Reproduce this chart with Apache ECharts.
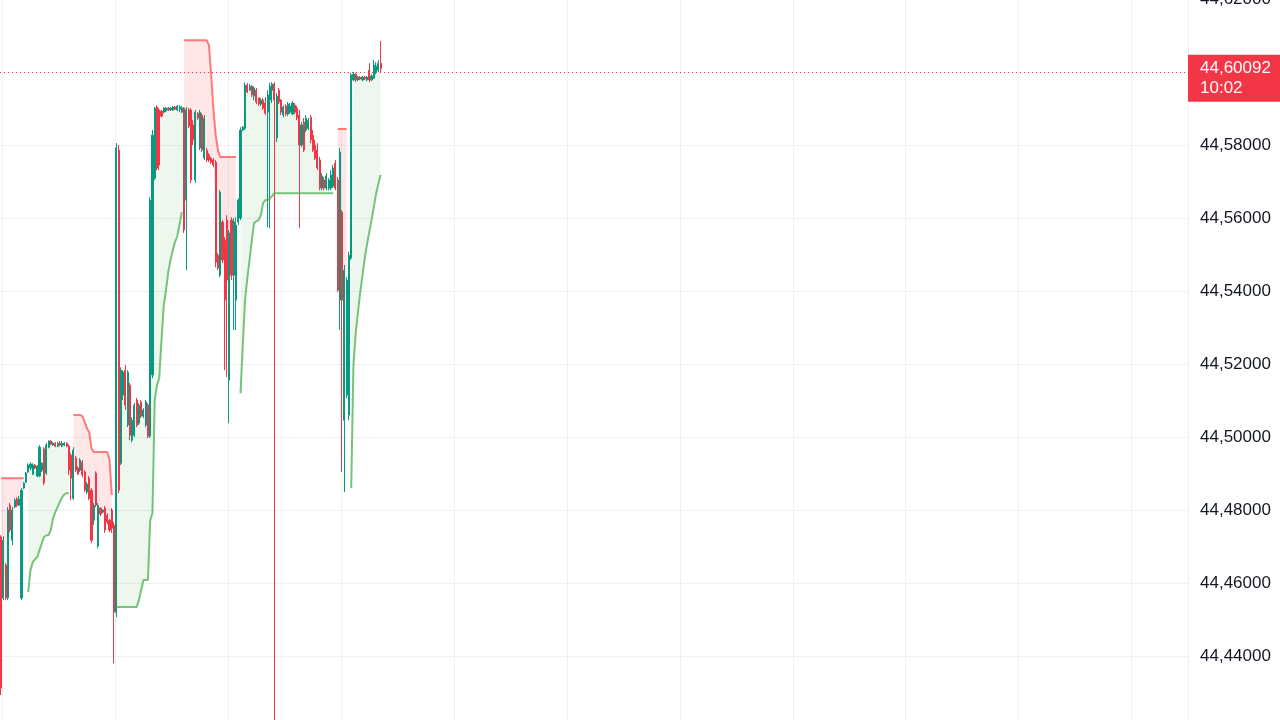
<!DOCTYPE html>
<html>
<head>
<meta charset="utf-8">
<title>Supertrend</title>
<script src="https://cdn.jsdelivr.net/npm/echarts@6/dist/echarts.min.js"></script>
<style>
html,body{margin:0;padding:0;background:#fff;}
#chart{width:1280px;height:720px;}
</style>
</head>
<body>
<div id="chart"></div>
<script>
// candles: open, close, low, high
const ohlc = [
  [44.4726,44.4312,44.4293,44.4731],[44.4559,44.4717,44.4553,44.4728],[44.4649,44.4559,44.4553,44.4654],
  [44.4559,44.4800,44.4553,44.4808],[44.4813,44.4745,44.4739,44.4819],[44.4717,44.4800,44.4704,44.4808],
  [44.4808,44.4827,44.4805,44.4832],[44.4830,44.4813,44.4808,44.4835],[44.4813,44.4830,44.4811,44.4838],
  [44.4559,44.4854,44.4553,44.4860],[44.4860,44.4874,44.4857,44.4876],[44.4876,44.4901,44.4874,44.4904],
  [44.4904,44.4923,44.4901,44.4928],[44.4915,44.4926,44.4909,44.4931],[44.4898,44.4923,44.4896,44.4928],
  [44.4923,44.4915,44.4912,44.4926],[44.4893,44.4920,44.4890,44.4923],[44.4893,44.4972,44.4890,44.4978],
  [44.4909,44.4928,44.4904,44.4931],[44.4967,44.4874,44.4868,44.4972],[44.4901,44.4978,44.4896,44.4983],
  [44.4972,44.4989,44.4969,44.4991],[44.4989,44.4980,44.4978,44.4991],[44.4978,44.4983,44.4975,44.4986],
  [44.4983,44.4975,44.4972,44.4986],[44.4975,44.4983,44.4972,44.4986],[44.4983,44.4978,44.4975,44.4989],
  [44.4975,44.4983,44.4972,44.4989],[44.4978,44.4983,44.4975,44.4986],[44.4983,44.4975,44.4972,44.4986],
  [44.4975,44.4909,44.4896,44.4980],[44.4950,44.4887,44.4827,44.4956],[44.4832,44.4964,44.4827,44.4972],
  [44.4942,44.4909,44.4904,44.4948],[44.4915,44.4898,44.4896,44.4920],[44.4909,44.4937,44.4904,44.4942],
  [44.4931,44.4896,44.4890,44.4937],[44.4904,44.4854,44.4849,44.4909],[44.4849,44.4871,44.4843,44.4876],
  [44.4887,44.4832,44.4827,44.4893],[44.4854,44.4717,44.4709,44.4860],[44.4772,44.4813,44.4759,44.4819],
  [44.4901,44.4813,44.4808,44.4906],[44.4701,44.4813,44.4695,44.4819],[44.4805,44.4789,44.4783,44.4808],
  [44.4794,44.4800,44.4791,44.4802],[44.4805,44.4745,44.4737,44.4811],[44.4786,44.4767,44.4761,44.4791],
  [44.4772,44.4745,44.4739,44.4775],[44.4800,44.4750,44.4737,44.4805],[44.4759,44.4520,44.4380,44.4767],
  [44.4520,44.5792,44.4506,44.5805],[44.5786,44.4854,44.4846,44.5800],[44.4928,44.5183,44.4923,44.5191],
  [44.5115,44.5178,44.5101,44.5183],[44.5183,44.5087,44.5074,44.5197],[44.5033,44.5178,44.5027,44.5183],
  [44.5142,44.5005,44.4991,44.5148],[44.4991,44.5046,44.4986,44.5054],[44.5005,44.5087,44.5000,44.5093],
  [44.5101,44.5033,44.5027,44.5107],[44.5038,44.5087,44.5033,44.5093],[44.5096,44.5057,44.5052,44.5101],
  [44.5057,44.5074,44.5052,44.5079],[44.5033,44.5096,44.5027,44.5101],[44.5087,44.5002,44.4997,44.5093],
  [44.5002,44.5649,44.4997,44.5657],[44.5170,44.5827,44.5161,44.5841],[44.5709,44.5901,44.5704,44.5904],
  [44.5904,44.5737,44.5731,44.5909],[44.5896,44.5745,44.5731,44.5901],[44.5893,44.5879,44.5876,44.5896],
  [44.5890,44.5901,44.5887,44.5904],[44.5893,44.5901,44.5890,44.5904],[44.5901,44.5896,44.5893,44.5904],
  [44.5896,44.5901,44.5893,44.5904],[44.5896,44.5904,44.5893,44.5907],[44.5904,44.5898,44.5896,44.5907],
  [44.5896,44.5907,44.5893,44.5909],[44.5898,44.5904,44.5890,44.5909],[44.5890,44.5901,44.5887,44.5907],
  [44.5901,44.5567,44.5559,44.5904],[44.5649,44.5896,44.5457,44.5904],[44.5896,44.5852,44.5846,44.5901],
  [44.5896,44.5704,44.5696,44.5901],[44.5855,44.5814,44.5800,44.5868],[44.5704,44.5890,44.5696,44.5896],
  [44.5887,44.5874,44.5868,44.5890],[44.5792,44.5890,44.5786,44.5896],[44.5882,44.5786,44.5781,44.5887],
  [44.5764,44.5874,44.5759,44.5882],[44.5786,44.5759,44.5753,44.5792],[44.5772,44.5759,44.5753,44.5778],
  [44.5764,44.5753,44.5748,44.5767],[44.5759,44.5745,44.5739,44.5764],[44.5753,44.5479,44.5465,44.5759],
  [44.5498,44.5463,44.5457,44.5504],[44.5443,44.5671,44.5438,44.5676],[44.5589,44.5485,44.5476,44.5594],
  [44.5539,44.5375,44.5183,44.5548],[44.5594,44.5430,44.5164,44.5608],[44.5156,44.5559,44.5038,44.5567],
  [44.5594,44.5443,44.5430,44.5602],[44.5443,44.5589,44.5293,44.5600],[44.5375,44.5581,44.5293,44.5602],
  [44.5589,44.5649,44.5581,44.5654],[44.5600,44.5841,44.5594,44.5849],[44.5841,44.5849,44.5838,44.5852],
  [44.5846,44.5964,44.5841,44.5972],[44.5964,44.5945,44.5942,44.5970],[44.5950,44.5961,44.5948,44.5967],
  [44.5961,44.5937,44.5931,44.5964],[44.5934,44.5956,44.5923,44.5961],[44.5950,44.5918,44.5912,44.5956],
  [44.5929,44.5912,44.5907,44.5931],[44.5912,44.5923,44.5907,44.5929],[44.5923,44.5901,44.5896,44.5929],
  [44.5915,44.5887,44.5882,44.5931],[44.5890,44.5937,44.5575,44.5950],[44.5923,44.5961,44.5572,44.5970],
  [44.5950,44.5967,44.5915,44.5972],[44.5967,44.5923,44.4169,44.5972],[44.5819,44.5934,44.5808,44.5942],
  [44.5950,44.5918,44.5912,44.5956],[44.5923,44.5890,44.5882,44.5926],[44.5882,44.5904,44.5876,44.5909],
  [44.5907,44.5885,44.5879,44.5912],[44.5885,44.5912,44.5879,44.5918],[44.5890,44.5907,44.5885,44.5915],
  [44.5885,44.5915,44.5882,44.5920],[44.5909,44.5890,44.5885,44.5915],[44.5901,44.5874,44.5868,44.5907],
  [44.5882,44.5800,44.5572,44.5896],[44.5800,44.5855,44.5794,44.5863],[44.5863,44.5786,44.5781,44.5874],
  [44.5841,44.5874,44.5835,44.5882],[44.5846,44.5868,44.5841,44.5874],[44.5876,44.5814,44.5805,44.5882],
  [44.5827,44.5786,44.5781,44.5841],[44.5800,44.5764,44.5759,44.5814],[44.5786,44.5737,44.5731,44.5805],
  [44.5759,44.5682,44.5676,44.5767],[44.5682,44.5715,44.5676,44.5723],[44.5704,44.5682,44.5676,44.5712],
  [44.5682,44.5715,44.5676,44.5723],[44.5682,44.5704,44.5676,44.5709],[44.5682,44.5718,44.5676,44.5731],
  [44.5687,44.5737,44.5682,44.5745],[44.5750,44.5682,44.5676,44.5759],[44.5704,44.5402,44.5397,44.5712],
  [44.5375,44.5781,44.5293,44.5792],[44.5616,44.5375,44.4904,44.5622],[44.5046,44.5457,44.4849,44.5471],
  [44.5115,44.5430,44.5107,44.5438],[44.5060,44.5498,44.5046,44.5507],[44.5490,44.5992,44.5485,44.5997],
  [44.5978,44.5994,44.5975,44.6000],[44.5994,44.5978,44.5972,44.5997],[44.5978,44.5986,44.5975,44.5989],
  [44.5986,44.5981,44.5978,44.5989],[44.5978,44.5986,44.5975,44.5989],[44.5986,44.5981,44.5978,44.5989],
  [44.5978,44.5986,44.5975,44.5989],[44.6005,44.5978,44.5972,44.6024],[44.5978,44.5989,44.5975,44.5994],
  [44.5983,44.6019,44.5981,44.6033],[44.6000,44.6016,44.5994,44.6027],[44.6005,44.6024,44.6000,44.6033],
  [44.6024,44.60092,44.6000,44.6085]
];

// supertrend, bearish side (line above price)
const trendDown = [
  44.4887,44.4887,44.4887,44.4887,44.4887,44.4887,44.4887,44.4887,44.4887,44.4887,44.4887,
  null,null,null,null,null,null,null,null,null,null,null,null,null,null,null,null,null,null,null,null,null,
  44.5060,44.5060,44.5060,44.5060,44.5057,44.5041,44.5024,44.5013,44.4969,
  44.4959,44.4959,44.4959,44.4959,44.4959,44.4959,44.4959,44.4937,44.4841,
  null,null,null,null,null,null,null,null,null,null,null,null,null,null,null,null,
  null,null,null,null,null,null,null,null,null,null,null,null,null,null,null,
  44.6087,44.6087,44.6087,44.6087,44.6087,44.6087,44.6087,44.6087,44.6087,44.6087,44.6087,
  44.6074,44.5992,44.5896,44.5827,44.5786,
  44.5767,44.5767,44.5767,44.5767,44.5767,44.5767,44.5767,44.5767,
  null,null,null,null,null,null,null,null,null,null,null,null,null,null,null,null,null,null,null,null,null,null,
  null,null,null,null,null,null,null,null,null,null,null,null,null,null,null,null,null,null,null,null,null,null,
  44.5844,44.5844,44.5844,44.5844,44.5844,
  null,null,null,null,null,null,null,null,null,null,null,null,null,null,null
];

// supertrend, bullish side (line below price)
const trendUp = [
  null,null,null,null,null,null,null,null,null,null,null,null,
  44.4575,44.4635,44.4657,44.4665,44.4671,44.4690,44.4709,44.4726,44.4731,44.4731,
  44.4745,44.4778,44.4794,44.4808,44.4822,44.4835,44.4843,44.4846,44.4846,
  null,null,null,null,null,null,null,null,null,null,null,null,null,null,null,null,null,null,null,null,
  44.4534,44.4534,44.4534,44.4534,44.4534,44.4534,44.4534,44.4534,44.4534,44.4534,
  44.4553,44.4581,44.4608,44.4608,44.4608,44.4772,44.4791,44.5101,44.5142,44.5161,
  44.5265,44.5361,44.5402,44.5452,44.5485,44.5512,44.5534,44.5550,44.5583,44.5616,
  null,null,null,null,null,null,null,null,null,null,null,null,null,
  null,null,null,null,null,null,null,null,null,null,null,null,
  44.5120,44.5252,44.5375,44.5435,44.5485,44.5539,44.5586,44.5591,44.5594,44.5608,
  44.5641,44.5649,44.5649,44.5654,44.5660,
  44.5668,44.5668,44.5668,44.5668,44.5668,44.5668,44.5668,44.5668,44.5668,44.5668,
  44.5668,44.5668,44.5668,44.5668,44.5668,44.5668,44.5668,44.5668,44.5668,44.5668,
  44.5668,44.5668,44.5668,44.5668,44.5668,44.5668,44.5668,
  null,null,null,null,null,null,null,
  44.4860,44.5197,44.5285,44.5342,44.5397,44.5443,44.5490,44.5528,44.5561,44.5594,
  44.5630,44.5666,44.5693,44.5718
];

const priceTicks = [44.42, 44.44, 44.46, 44.48, 44.50, 44.52, 44.54, 44.56, 44.58, 44.60, 44.62];
const lastPrice = 44.60092;
const barTimer = '10:02';
const slotCount = 526;   // visible bar slots, most of them still empty
const slotsPerLine = 50;

const upColor = '#089981';
const downColor = '#F23645';

const slots = [];
for (let i = 0; i < slotCount; i++) slots.push(String(i));

// fill goes from the supertrend line to the middle of the candle body
const mids = ohlc.map(d => (d[0] + d[1]) / 2);
const dnBase = trendDown.map((v, i) => v == null ? null : mids[i]);
const dnBand = trendDown.map((v, i) => v == null ? null : v - mids[i]);
const upBand = trendUp.map((v, i) => v == null ? null : mids[i] - v);

const fmt = v => v.toFixed(5).replace('.', ',');
const font = 'Liberation Sans, Arial, sans-serif';
const fontSize = 17;
const gridRight = 92;

const chart = echarts.init(document.getElementById('chart'));

function hidden(name, data, stack, fill) {
  return {
    name: name, type: 'line', data: data, stack: stack,
    symbol: 'none', silent: true, z: 1,
    lineStyle: { opacity: 0 },
    areaStyle: fill ? { color: fill, opacity: 1 } : undefined
  };
}

chart.setOption({
  animation: false,
  grid: { left: 0, right: gridRight, top: -1, bottom: -9, outerBoundsMode: 'none' },
  xAxis: {
    type: 'category',
    data: slots,
    axisLine: { show: false },
    axisTick: { show: false },
    axisLabel: { show: false },
    splitLine: {
      show: true,
      interval: idx => idx % slotsPerLine === 1,
      lineStyle: { color: '#eef0f4', width: 1 }
    }
  },
  yAxis: {
    type: 'value',
    position: 'right',
    min: priceTicks[0],
    max: priceTicks[priceTicks.length - 1],
    interval: 0.02,
    axisLine: { show: false },
    axisTick: { show: false },
    axisLabel: { color: '#131722', fontSize: fontSize, fontFamily: font, margin: 12, formatter: fmt },
    splitLine: { lineStyle: { color: '#eef0f4', width: 1 } }
  },
  series: [
    hidden('dnBase', dnBase, 'dn'),
    hidden('dnFill', dnBand, 'dn', 'rgba(255,82,82,0.14)'),
    hidden('upBase', trendUp, 'up'),
    hidden('upFill', upBand, 'up', 'rgba(76,175,80,0.1)'),
    {
      name: 'price', type: 'candlestick', data: ohlc, z: 3,
      barWidth: 1.6,
      itemStyle: {
        color: upColor, color0: downColor,
        borderColor: upColor, borderColor0: downColor, borderWidth: 1
      },
      markLine: {
        silent: true, symbol: 'none', animation: false,
        label: { show: false },
        lineStyle: { color: downColor, type: [1, 3], width: 1, opacity: 1 },
        data: [{ yAxis: lastPrice }]
      }
    },
    {
      name: 'Down Trend', type: 'line', data: trendDown, symbol: 'none', z: 4,
      lineStyle: { color: 'rgba(255,82,82,0.75)', width: 2 }
    },
    {
      name: 'Up Trend', type: 'line', data: trendUp, symbol: 'none', z: 4,
      lineStyle: { color: 'rgba(76,175,80,0.75)', width: 2 }
    }
  ]
});

// last price badge on the price scale, drawn over the axis labels
const py = chart.convertToPixel({ yAxisIndex: 0 }, lastPrice);
const ax = chart.getWidth() - gridRight;
const badgeFont = fontSize + 'px ' + font;
chart.setOption({
  graphic: [
    { type: 'rect', z: 100, zlevel: 1, shape: { x: ax, y: py - 14, width: gridRight, height: 47 }, style: { fill: downColor } },
    { type: 'text', z: 101, zlevel: 1, x: ax + 12, y: py, style: { text: fmt(lastPrice), fill: '#fff', font: badgeFont, verticalAlign: 'middle' } },
    { type: 'text', z: 101, zlevel: 1, x: ax + 12, y: py + 20, style: { text: barTimer, fill: '#fff', font: badgeFont, verticalAlign: 'middle' } }
  ]
});
</script>
</body>
</html>
